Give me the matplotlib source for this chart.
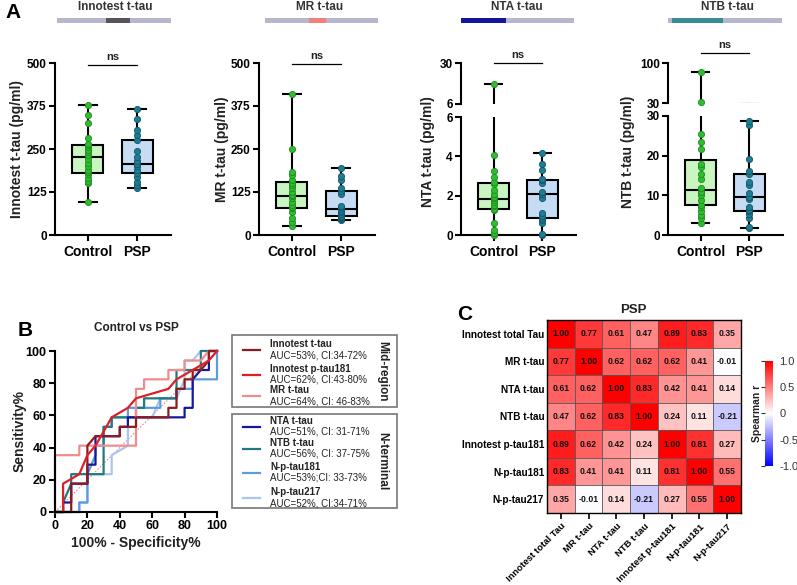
import numpy as np
import matplotlib
matplotlib.use('Agg')
import matplotlib.pyplot as plt
import matplotlib.patches as patches
from matplotlib.colors import LinearSegmentedColormap
from matplotlib.transforms import blended_transform_factory

plt.rcParams['font.family'] = ['Liberation Sans', 'DejaVu Sans']

W, H = 797, 585

# ---------------- panel A data ----------------
GROUPS = ['Control', 'PSP']
INNOTEST_CTRL = [97, 150, 158, 165, 178, 182, 190, 200, 210, 222, 232, 240, 248, 255, 262, 265, 282, 327, 350, 379]
INNOTEST_PSP = [136, 146, 155, 170, 180, 189, 200, 207, 207, 214, 228, 243, 277, 291, 306, 337, 366]
MR_CTRL = [26, 39, 49, 68, 78, 80, 87, 97, 107, 112, 117, 126, 136, 146, 152, 160, 175, 182, 250, 411]
MR_PSP = [44, 47, 50, 52, 55, 60, 66, 71, 76, 80, 83, 120, 129, 136, 160, 172, 196]
NTA_CTRL = [0.0, 0.08, 0.25, 0.62, 1.25, 1.32, 1.45, 1.52, 1.7, 1.77, 1.87, 1.94, 2.1, 2.28, 2.6, 2.7, 2.96, 3.26, 4.05, 18]
NTA_PSP = [0.0, 0.05, 0.59, 0.76, 0.84, 0.95, 1.1, 1.9, 2.06, 2.11, 2.2, 2.65, 2.79, 2.87, 3.29, 3.63, 4.19]
NTB_CTRL = [3.1, 4.2, 5.0, 6.1, 7.1, 7.6, 8.8, 10.1, 10.9, 10.9, 11.8, 14.1, 15.5, 17.2, 17.9, 21.8, 23.5, 25.5, 31, 84]
NTB_PSP = [1.7, 2.1, 4.2, 5.3, 6.1, 6.3, 7.1, 9.0, 9.7, 10.5, 12.6, 13.4, 15.5, 16.1, 19.1, 27.7, 28.7]

# ---------------- panel B data (ROC points, %) ----------------
ROC_NAMES = ['Innotest t-tau', 'Innotest p-tau181', 'MR t-tau',
             'NTA t-tau', 'NTB t-tau', 'N-p-tau181', 'N-p-tau217']
ROC_AUC = ['AUC=53%, CI:34-72%', 'AUC=62%, CI:43-80%', 'AUC=64%, CI: 46-83%',
           'AUC=51%, CI: 31-71%', 'AUC=56%, CI: 37-75%', 'AUC=53%;CI: 33-73%',
           'AUC=52%, CI:34-71%']
INNO_FPR = [0, 10, 10, 20, 20, 25, 40, 40, 50, 50, 70, 70, 75, 75, 80, 80, 85, 85, 90, 95, 95, 100]
INNO_TPR = [0, 0, 17.6, 17.6, 41.2, 47.1, 47.1, 52.9, 52.9, 58.8, 58.8, 64.7, 64.7, 76.5, 76.5, 82.4, 82.4, 88.2, 88.2, 94.1, 100, 100]
PT181_FPR = [0, 5, 5, 15, 20, 25, 35, 45, 50, 70, 75, 85, 95, 100]
PT181_TPR = [0, 0, 17.6, 23.5, 35.3, 41.2, 58.8, 64.7, 70.6, 76.5, 82.4, 88.2, 94.1, 100]
MR_FPR = [0, 0, 15, 15, 50, 50, 55, 55, 70, 70, 80, 80, 90, 95, 100]
MR_TPR = [0, 35.3, 35.3, 41.2, 41.2, 76.5, 76.5, 82.4, 82.4, 88.2, 88.2, 94.1, 94.1, 100, 100]
NTA_FPR = [0, 5, 5, 10, 10, 20, 20, 25, 25, 40, 40, 45, 45, 80, 80, 85, 85, 90, 95, 95, 100]
NTA_TPR = [0, 0, 5.9, 5.9, 17.6, 17.6, 29.4, 29.4, 47.1, 47.1, 52.9, 52.9, 58.8, 58.8, 64.7, 64.7, 82.4, 88.2, 88.2, 100, 100]
NTB_FPR = [0, 5, 5, 10, 10, 30, 30, 35, 35, 50, 50, 55, 55, 75, 75, 90, 90, 100]
NTB_TPR = [0, 0, 5.9, 17.6, 23.5, 23.5, 52.9, 52.9, 58.8, 58.8, 64.7, 64.7, 70.6, 70.6, 88.2, 88.2, 100, 100]
NP181_FPR = [0, 15, 15, 20, 20, 25, 25, 30, 30, 35, 35, 45, 45, 65, 65, 75, 75, 85, 85, 100, 100]
NP181_TPR = [0, 0, 5.9, 5.9, 23.5, 35.3, 41.2, 41.2, 52.9, 52.9, 58.8, 58.8, 64.7, 64.7, 70.6, 70.6, 76.5, 76.5, 82.4, 82.4, 100]
NP217_FPR = [0, 15, 15, 20, 20, 35, 35, 45, 45, 60, 65, 75, 80, 80, 85, 90, 100]
NP217_TPR = [0, 0, 5.9, 5.9, 23.5, 23.5, 35.3, 41.2, 58.8, 58.8, 70.6, 70.6, 82.4, 94.1, 94.1, 100, 100]

# ---------------- panel C data ----------------
CORR_LABELS = ['Innotest total Tau', 'MR t-tau', 'NTA t-tau', 'NTB t-tau',
               'Innotest p-tau181', 'N-p-tau181', 'N-p-tau217']
CORR = [
    [1.00, 0.77, 0.61, 0.47, 0.89, 0.83, 0.35],
    [0.77, 1.00, 0.62, 0.62, 0.62, 0.41, -0.01],
    [0.61, 0.62, 1.00, 0.83, 0.42, 0.41, 0.14],
    [0.47, 0.62, 0.83, 1.00, 0.24, 0.11, -0.21],
    [0.89, 0.62, 0.42, 0.24, 1.00, 0.81, 0.27],
    [0.83, 0.41, 0.41, 0.11, 0.81, 1.00, 0.55],
    [0.35, -0.01, 0.14, -0.21, 0.27, 0.55, 1.00],
]

BOX_FILL = ['#c9f5c1', '#c6dcf4']
DOT_FACE = ['#2ebd2e', '#1d7d93']
DOT_EDGE = ['#1f8a1f', '#135566']
BAR_BASE = '#b6b6cf'
TXT = '#222222'

fig = plt.figure(figsize=(W / 100, H / 100), dpi=100, facecolor='white')

ov = fig.add_axes([0, 0, 1, 1])
ov.set_xlim(0, W)
ov.set_ylim(H, 0)
ov.axis('off')


def px_ax(x0, y0, x1, y1):
    ax = fig.add_axes([x0 / W, 1 - y1 / H, (x1 - x0) / W, (y1 - y0) / H])
    ax.set_facecolor('none')
    return ax


def bold_ticks(ax, size=8.5):
    for lab in ax.get_xticklabels() + ax.get_yticklabels():
        lab.set_fontweight('bold')
        lab.set_fontsize(size)


def draw_boxes(ax, ctrl, psp, lo, hi, bottom=True):
    bp = ax.boxplot([ctrl, psp], positions=[1, 2], widths=0.63, whis=(0, 100),
                    showfliers=False, patch_artist=True, capwidths=0.35,
                    boxprops=dict(linewidth=1.5, edgecolor='black'),
                    medianprops=dict(color='black', linewidth=1.5),
                    whiskerprops=dict(color='black', linewidth=1.5),
                    capprops=dict(color='black', linewidth=1.5))
    for box, fc in zip(bp['boxes'], BOX_FILL):
        box.set_facecolor(fc)
    for i, vals in enumerate([ctrl, psp]):
        v = np.array([x for x in vals if lo <= x <= hi])
        ax.scatter(np.full(len(v), i + 1), v, s=20, color=DOT_FACE[i],
                   edgecolor=DOT_EDGE[i], linewidth=0.6, zorder=5, clip_on=False)
    ax.set_ylim(lo, hi)
    ax.set_xlim(0.33, 2.69)
    for s in ['top', 'right']:
        ax.spines[s].set_visible(False)
    ax.spines['left'].set_linewidth(1.5)
    ax.tick_params(axis='y', width=1.5, length=4, pad=2)
    if bottom:
        ax.spines['bottom'].set_linewidth(1.5)
        ax.set_xticks([1, 2])
        ax.set_xticklabels(GROUPS)
        ax.tick_params(axis='x', width=1.5, length=4, pad=3)
    else:
        ax.spines['bottom'].set_visible(False)
        ax.set_xticks([])


def finish_ticks(ax):
    bold_ticks(ax)
    for lab in ax.get_xticklabels():
        lab.set_fontsize(10)


def ns_mark(ax, y_line):
    tr = blended_transform_factory(ax.transData, ov.transData)
    ax.plot([1, 2], [y_line, y_line], color='black', lw=0.9, transform=tr, clip_on=False)
    ax.text(1.5, y_line - 3, 'ns', transform=tr, ha='center', va='bottom',
            fontsize=8, fontweight='bold', color=TXT)


def top_bar(p):
    ov.text(p['tx'], 7, p['title'], ha='center', va='center', fontsize=8.5,
            fontweight='bold', color='#333333')
    ov.add_patch(patches.Rectangle((p['bar'][0], 18), p['bar'][1] - p['bar'][0], 5,
                                   facecolor=BAR_BASE, edgecolor='none'))
    ov.add_patch(patches.Rectangle((p['hl'][1], 18), p['hl'][2] - p['hl'][1], 5,
                                   facecolor=p['hl'][0], edgecolor='none'))


# ---------------- panel A ----------------
panels = [
    dict(title='Innotest t-tau', ylabel='Innotest t-tau (pg/ml)', x0=55, x1=171,
         data=(INNOTEST_CTRL, INNOTEST_PSP), hl=('#58525a', 106, 130), bar=(57, 171),
         ticks=[0, 125, 250, 375, 500], lim=(0, 500), ns=65, ylab_x=17, tx=115),
    dict(title='MR t-tau', ylabel='MR t-tau (pg/ml)', x0=259, x1=375,
         data=(MR_CTRL, MR_PSP), hl=('#f4807e', 309, 326), bar=(265, 378),
         ticks=[0, 125, 250, 375, 500], lim=(0, 500), ns=64, ylab_x=222, tx=320),
]
for p in panels:
    ax = px_ax(p['x0'], 63, p['x1'], 235)
    draw_boxes(ax, *p['data'], *p['lim'])
    ax.set_yticks(p['ticks'])
    finish_ticks(ax)
    ns_mark(ax, p['ns'])
    ov.text(p['ylab_x'], 149, p['ylabel'], rotation=90, ha='center', va='center',
            fontsize=10, fontweight='bold', color=TXT)
    top_bar(p)

broken = [
    dict(title='NTA t-tau', ylabel='NTA t-tau (pg/ml)', x0=461, x1=576,
         data=(NTA_CTRL, NTA_PSP), hl=('#15159a', 461, 506), bar=(461, 574),
         up=(63, 104, 6, 30), low=(117, 235, 0, 6), lticks=[0, 2, 4, 6],
         ns=63, ylab_x=428, tx=517),
    dict(title='NTB t-tau', ylabel='NTB t-tau (pg/ml)', x0=668, x1=783,
         data=(NTB_CTRL, NTB_PSP), hl=('#3a8a92', 672, 723), bar=(668, 782),
         up=(63, 103, 30, 100), low=(116, 235, 0, 30), lticks=[0, 10, 20, 30],
         ns=53, ylab_x=628, tx=727),
]
for p in broken:
    uy0, uy1, ulo, uhi = p['up']
    ly0, ly1, llo, lhi = p['low']
    axu = px_ax(p['x0'], uy0, p['x1'], uy1)
    draw_boxes(axu, *p['data'], ulo, uhi, bottom=False)
    axu.set_yticks([ulo, uhi])
    finish_ticks(axu)
    axl = px_ax(p['x0'], ly0, p['x1'], ly1)
    draw_boxes(axl, *p['data'], llo, lhi)
    axl.set_yticks(p['lticks'])
    finish_ticks(axl)
    ns_mark(axu, p['ns'])
    ov.text(p['ylab_x'], 152, p['ylabel'], rotation=90, ha='center', va='center',
            fontsize=10, fontweight='bold', color=TXT)
    top_bar(p)

ov.text(5, 12, 'A', fontsize=15, fontweight='bold', va='center', ha='left')

# ---------------- panel B ----------------
roc_curves = [(INNO_FPR, INNO_TPR), (PT181_FPR, PT181_TPR), (MR_FPR, MR_TPR),
              (NTA_FPR, NTA_TPR), (NTB_FPR, NTB_TPR), (NP181_FPR, NP181_TPR),
              (NP217_FPR, NP217_TPR)]
roc_colors = ['#8e1b1f', '#dd1f26', '#f28c8c', '#16169e', '#217a80', '#5c9be3', '#a8c6ee']
draw_order = [6, 5, 4, 3, 2, 0, 1]

rax = px_ax(55, 351, 217, 512)
rax.plot([0, 100], [0, 100], color='#e86a6a', lw=0.6, ls=(0, (2, 2)))
for i in draw_order:
    fx, ty = roc_curves[i]
    rax.plot(fx, ty, color=roc_colors[i], lw=1.6, clip_on=False)
rax.set_xlim(0, 100)
rax.set_ylim(0, 100)
rax.set_xticks(range(0, 101, 20))
rax.set_yticks(range(0, 101, 20))
for s in ['top', 'right']:
    rax.spines[s].set_visible(False)
for s in ['left', 'bottom']:
    rax.spines[s].set_linewidth(1.5)
rax.tick_params(width=1.5, length=4, pad=2)
bold_ticks(rax, 9)

ov.text(18, 330, 'B', fontsize=15, fontweight='bold', va='center', ha='left')
ov.text(136, 328, 'Control vs PSP', ha='center', va='center', fontsize=8.5,
        fontweight='bold', color=TXT)
ov.text(136, 543, '100% - Specificity%', ha='center', va='center', fontsize=10,
        fontweight='bold', color=TXT)
ov.text(20, 431, 'Sensitivity%', rotation=90, ha='center', va='center', fontsize=10,
        fontweight='bold', color=TXT)

# legend boxes
ov.add_patch(patches.Rectangle((232, 335), 165, 72, facecolor='none',
                               edgecolor='#777777', lw=1.2))
ov.add_patch(patches.Rectangle((232, 414), 165, 94, facecolor='none',
                               edgecolor='#777777', lw=1.2))
leg_y = [344, 369, 390, 421, 443, 467, 492]
for i, y in enumerate(leg_y):
    ov.plot([243, 260], [y + 6, y + 6], color=roc_colors[i], lw=1.6)
    ov.text(270, y, ROC_NAMES[i], fontsize=7, fontweight='bold', va='center',
            ha='left', color=TXT)
    ov.text(270, y + 11, ROC_AUC[i], fontsize=7, va='center', ha='left', color=TXT)
ov.text(382, 371, 'Mid-region', rotation=-90, ha='center', va='center',
        fontsize=8.5, fontweight='bold', color=TXT)
ov.text(382, 461, 'N-terminal', rotation=-90, ha='center', va='center',
        fontsize=8.5, fontweight='bold', color=TXT)

# ---------------- panel C ----------------
cmap = LinearSegmentedColormap.from_list('bwr_r', ['#0000ff', '#ffffff', '#ff0000'])
hax = px_ax(547, 320, 741, 513)
corr = np.array(CORR)
im = hax.imshow(corr, cmap=cmap, vmin=-1, vmax=1, aspect='auto')
n = len(CORR_LABELS)
for r in range(n):
    for c in range(n):
        hax.text(c, r, f'{corr[r, c]:.2f}', ha='center', va='center',
                 fontsize=6.2, fontweight='bold', color='#111111')
hax.set_xticks(np.arange(-0.5, n, 1), minor=True)
hax.set_yticks(np.arange(-0.5, n, 1), minor=True)
hax.grid(which='minor', color='#555555', lw=0.6)
hax.tick_params(which='minor', length=0)
hax.set_xticks(range(n))
hax.set_yticks(range(n))
hax.set_xticklabels(CORR_LABELS, rotation=45, ha='right', rotation_mode='anchor')
hax.set_yticklabels(CORR_LABELS)
hax.tick_params(axis='y', length=0, pad=2)
hax.tick_params(axis='x', length=4, width=1.2, pad=2)
for s in hax.spines.values():
    s.set_linewidth(1.0)
bold_ticks(hax, 7.2)
for lab in hax.get_xticklabels():
    lab.set_fontsize(6.8)

cax = px_ax(765, 361, 773, 466)
cb = fig.colorbar(im, cax=cax, ticks=[-1, -0.5, 0, 0.5, 1])
cb.ax.set_yticklabels(['-1.0', '-0.5', '0', '0.5', '1.0'])
cb.outline.set_visible(False)
cb.ax.tick_params(labelsize=8, length=3, pad=1.5, colors='#333333',
                  left=True, right=False, labelleft=False, labelright=True)

ov.text(457, 315, 'C', fontsize=15, fontweight='bold', va='center', ha='left')
ov.text(633, 310, 'PSP', ha='center', va='center', fontsize=9.5, fontweight='bold',
        color=TXT)
ov.text(757, 413, 'Spearman r', rotation=90, ha='center', va='center', fontsize=7.5,
        fontweight='bold', color=TXT)

fig.savefig('out.png', dpi=100, facecolor='white')
